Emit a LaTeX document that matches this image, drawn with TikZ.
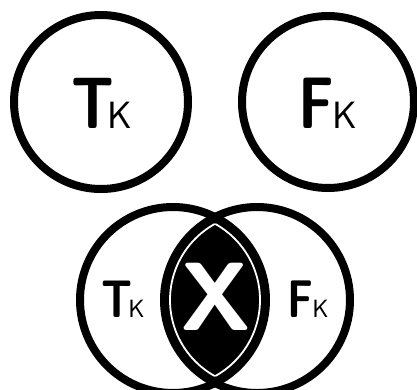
\documentclass[tikz,border=0pt]{standalone}
\usepackage{tikz}

\begin{document}
\begin{tikzpicture}[x=1pt, y=-1pt,
    ring/.style={line width=8pt},
    seam/.style={white, line width=1.8pt},
    big/.style={font=\fontsize{#1}{#1}\selectfont\sffamily\bfseries, inner sep=0pt, anchor=base}]
        \useasboundingbox (0,0) rectangle (417,389);
        \coordinate (TL) at (101,102);
        \coordinate (TR) at (328,102);
        \coordinate (BL) at (173,300);
        \coordinate (BR) at (257,300);

        % black lens between the two lower circles
        \begin{scope}
            \clip (BL) circle[radius=93pt];
            \fill (BR) circle[radius=93pt];
        \end{scope}
        \begin{scope}
            \clip (BL) circle[radius=87pt];
            \draw[seam] (BR) circle[radius=87pt];
        \end{scope}
        \begin{scope}
            \clip (BR) circle[radius=87pt];
            \draw[seam] (BL) circle[radius=87pt];
        \end{scope}

        \draw[ring] (TL) circle[radius=87pt];
        \draw[ring] (TR) circle[radius=86pt];
        \draw[ring] (BL) circle[radius=93pt];
        \draw[ring] (BR) circle[radius=93pt];

        \node[big=73] (tk) at (102,128) {\scalebox{0.8}[1]{T}\kern-7pt{\fontsize{38}{38}\selectfont\mdseries K}};
        \node[big=73] (fk) at (328,128) {\scalebox{0.8}[1]{F}\kern-1pt{\fontsize{38}{38}\selectfont\mdseries K}};
        \node[big=53] (tk2) at (123,317) {\scalebox{0.8}[1]{T}\kern-4pt{\fontsize{25}{25}\selectfont\mdseries K}};
        \node[big=53] (fk2) at (308,317) {\scalebox{0.8}[1]{F}\kern-1pt{\fontsize{25}{25}\selectfont\mdseries K}};
        \node[big=97, white] (x) at (216,330) {X};
    \end{tikzpicture}
\end{document}
